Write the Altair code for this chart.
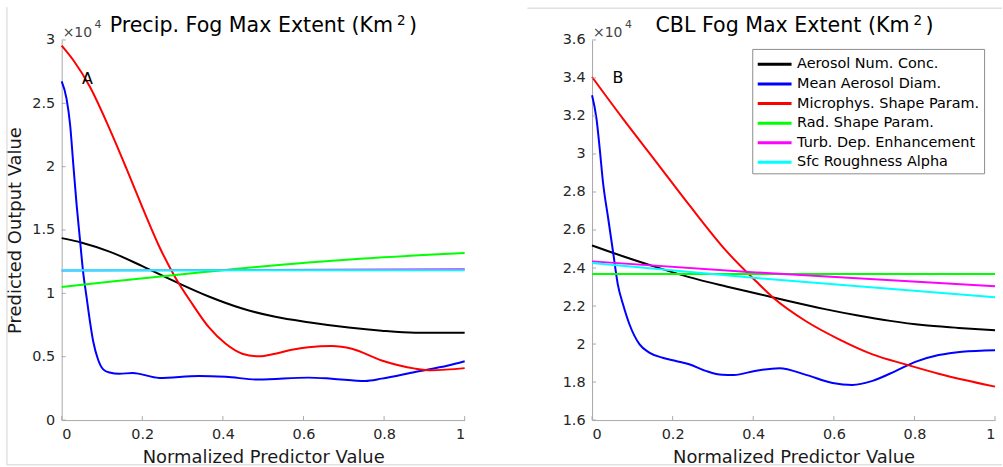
import altair as alt
import pandas as pd

# ---------------- data (values in units of 1e4 km^2) ----------------
series_names = [
    "Aerosol Num. Conc.",
    "Mean Aerosol Diam.",
    "Microphys. Shape Param.",
    "Rad. Shape Param.",
    "Turb. Dep. Enhancement",
    "Sfc Roughness Alpha",
]
series_colors = ["#000000", "#0000ff", "#ff0000", "#00ff00", "#ff00ff", "#00ffff"]

# Panel A: Precip. fog
a_black_x = [0, 0.05, 0.1185, 0.2, 0.283, 0.365, 0.448, 0.53, 0.612, 0.712, 0.794, 0.877, 1.0]
a_black_y = [1.436, 1.40, 1.33, 1.215, 1.09, 0.975, 0.88, 0.815, 0.772, 0.73, 0.705, 0.69, 0.689]

a_blue_x = [0, 0.012, 0.021, 0.029, 0.037, 0.045, 0.053, 0.062, 0.070, 0.078, 0.090, 0.103, 0.1185, 0.143,
            0.176, 0.242, 0.341, 0.407, 0.489, 0.612, 0.67, 0.753, 0.794, 0.877, 0.959, 1.0]
a_blue_y = [2.673, 2.537, 2.327, 2.01, 1.70, 1.436, 1.174, 0.964, 0.781, 0.624, 0.48, 0.40, 0.375, 0.365,
            0.372, 0.333, 0.348, 0.341, 0.320, 0.335, 0.327, 0.309, 0.327, 0.38, 0.43, 0.464]

a_red_x = [0, 0.029, 0.070, 0.1185, 0.160, 0.2, 0.242, 0.283, 0.324, 0.365, 0.407, 0.448, 0.489, 0.530,
           0.571, 0.612, 0.67, 0.72, 0.794, 0.877, 0.918, 1.0]
a_red_y = [2.956, 2.84, 2.63, 2.30, 1.99, 1.68, 1.37, 1.12, 0.917, 0.733, 0.602, 0.524, 0.503, 0.524,
           0.555, 0.575, 0.584, 0.563, 0.47, 0.406, 0.393, 0.41]

a_green_x = [0, 0.1185, 0.342, 0.612, 0.75, 1.0]
a_green_y = [1.051, 1.092, 1.165, 1.244, 1.275, 1.318]

a_magenta_x = [0, 1.0]
a_magenta_y = [1.181, 1.19]

a_cyan_x = [0, 1.0]
a_cyan_y = [1.182, 1.182]

# Panel B: CBL fog
b_black_x = [0, 0.0765, 0.159, 0.241, 0.333, 0.416, 0.49, 0.575, 0.66, 0.74, 0.82, 0.91, 1.0]
b_black_y = [2.519, 2.462, 2.405, 2.352, 2.303, 2.262, 2.225, 2.185, 2.15, 2.122, 2.10, 2.085, 2.072]

b_blue_x = [0, 0.011, 0.019, 0.027, 0.040, 0.052, 0.064, 0.077, 0.093, 0.118, 0.142, 0.175, 0.208, 0.241,
            0.282, 0.323, 0.352, 0.407, 0.465, 0.531, 0.597, 0.646, 0.696, 0.753, 0.802, 0.86, 0.918, 1.0]
b_blue_y = [3.309, 3.186, 3.029, 2.854, 2.662, 2.487, 2.313, 2.208, 2.103, 1.998, 1.955, 1.928, 1.911, 1.894,
            1.859, 1.838, 1.837, 1.86, 1.873, 1.838, 1.795, 1.785, 1.806, 1.858, 1.906, 1.942, 1.96, 1.968]

b_red_x = [0, 0.0765, 0.159, 0.241, 0.333, 0.407, 0.449, 0.531, 0.613, 0.696, 0.778, 0.86, 1.0]
b_red_y = [3.405, 3.186, 2.959, 2.732, 2.49, 2.33, 2.245, 2.12, 2.025, 1.946, 1.893, 1.844, 1.776]

b_green_x = [0, 1.0]
b_green_y = [2.369, 2.369]

b_magenta_x = [0, 0.407, 1.0]
b_magenta_y = [2.435, 2.377, 2.304]

b_cyan_x = [0, 0.407, 1.0]
b_cyan_y = [2.426, 2.347, 2.246]

x_ticks = [0, 0.2, 0.4, 0.6, 0.8, 1.0]
a_y_ticks = [0, 0.5, 1.0, 1.5, 2.0, 2.5, 3.0]
b_y_ticks = [1.6, 1.8, 2.0, 2.2, 2.4, 2.6, 2.8, 3.0, 3.2, 3.4, 3.6]

# titles: main text, superscript, closing paren
a_title = ["Precip. Fog Max Extent (Km", "2", ")"]
b_title = ["CBL Fog Max Extent (Km", "2", ")"]
a_label, a_label_x, a_label_y = "A", 0.064, 2.69
b_label, b_label_x, b_label_y = "B", 0.064, 3.40

W, H = 405, 382
FONT = "DejaVu Sans"
AXIS_GRAY = "#a8a8a8"
FRAME_GRAY = "#d2d2d2"
TEXT_GRAY = "#262626"


def make_df(groups):
    rows = []
    for name, xs, ys in groups:
        for xv, yv in zip(xs, ys):
            rows.append({"series": name, "x": xv, "y": yv})
    return pd.DataFrame(rows)


df_a = make_df([
    (series_names[0], a_black_x, a_black_y),
    (series_names[1], a_blue_x, a_blue_y),
    (series_names[2], a_red_x, a_red_y),
    (series_names[3], a_green_x, a_green_y),
    (series_names[4], a_magenta_x, a_magenta_y),
    (series_names[5], a_cyan_x, a_cyan_y),
])
df_b = make_df([
    (series_names[0], b_black_x, b_black_y),
    (series_names[1], b_blue_x, b_blue_y),
    (series_names[2], b_red_x, b_red_y),
    (series_names[3], b_green_x, b_green_y),
    (series_names[4], b_magenta_x, b_magenta_y),
    (series_names[5], b_cyan_x, b_cyan_y),
])


def txt(s, x, y, size, align="left", color="black"):
    return alt.Chart(pd.DataFrame({"s": [s]})).mark_text(
        align=align, baseline="alphabetic", fontSize=size, font=FONT, color=color
    ).encode(text="s:N", x=alt.value(x), y=alt.value(y))


def panel(df, y_ticks, title, title_end, label, lx, ly, show_ytitle, legend, frame):
    ydom = [y_ticks[0], y_ticks[-1]]
    xscale = alt.Scale(domain=[0, 1], nice=False, zero=False)
    yscale = alt.Scale(domain=ydom, nice=False, zero=False)
    xaxis = alt.Axis(values=x_ticks, format="~g", title="Normalized Predictor Value", ticks=False,
                     labelPadding=8, titlePadding=7, grid=False)
    yaxis = alt.Axis(values=y_ticks, format="~g",
                     title="Predicted Output Value" if show_ytitle else None,
                     ticks=False, labelPadding=7, titlePadding=7, grid=False)
    color = alt.Color("series:N", scale=alt.Scale(domain=series_names, range=series_colors),
                      legend=legend)
    layers = []
    for name in series_names:
        layers.append(
            alt.Chart(df).transform_filter(alt.datum.series == name)
            .mark_line(strokeWidth=2, interpolate="monotone").encode(
                x=alt.X("x:Q", scale=xscale, axis=xaxis),
                y=alt.Y("y:Q", scale=yscale, axis=yaxis),
                color=color,
                order=alt.Order("x:Q"),
            )
        )
    # inward ticks
    xt = alt.Chart(pd.DataFrame({"x": x_ticks})).mark_rule(color=AXIS_GRAY, strokeWidth=1).encode(
        x=alt.X("x:Q", scale=xscale, axis=xaxis), y=alt.value(H), y2=alt.value(H - 4))
    yt = alt.Chart(pd.DataFrame({"y": y_ticks})).mark_rule(color=AXIS_GRAY, strokeWidth=1).encode(
        y=alt.Y("y:Q", scale=yscale, axis=yaxis), x=alt.value(0), x2=alt.value(4))
    texts = [
        txt("×10", 1, -3, 14, color="#444444"),
        txt("4", 33, -12, 11, color="#444444"),
        txt(title[0], title_end, -8, 20.7, align="right"),
        txt(title[1], title_end + 4, -15.5, 13.5),
        txt(title[2], title_end + 16, -8, 20.7),
    ]
    lab = alt.Chart(pd.DataFrame({"s": [label], "x": [lx], "y": [ly]})).mark_text(
        align="center", baseline="middle", fontSize=16, font=FONT, color="black"
    ).encode(text="s:N", x=alt.X("x:Q", scale=xscale, axis=xaxis),
             y=alt.Y("y:Q", scale=yscale, axis=yaxis))
    extra = []
    if frame:
        # faint figure border of the original image (pixel offsets from this plot's origin)
        fr = alt.Chart(pd.DataFrame({"k": [0]})).mark_rule(color=FRAME_GRAY, strokeWidth=1)
        extra = [
            fr.encode(x=alt.value(-55), x2=alt.value(-55), y=alt.value(-33), y2=alt.value(427)),
            fr.encode(x=alt.value(-55), x2=alt.value(945), y=alt.value(427), y2=alt.value(427)),
            fr.encode(x=alt.value(468), x2=alt.value(945), y=alt.value(-32), y2=alt.value(-32)),
        ]
    return alt.layer(*extra, *layers, xt, yt, *texts, lab).properties(width=W, height=H)


left = panel(df_a, a_y_ticks, a_title, 333, a_label, a_label_x, a_label_y, True, None, True)
right = panel(df_b, b_y_ticks, b_title, 319, b_label, b_label_x, b_label_y, False,
              alt.Legend(orient="none", legendX=161, legendY=9, title=None,
                         symbolType="M-1,0H2.4", symbolSize=400, symbolStrokeWidth=3,
                         labelFontSize=14.5, labelFont=FONT, labelColor="black",
                         labelOffset=18, labelLimit=400, rowPadding=1.7,
                         fillColor="white", strokeColor="#8c8c8c", padding=4), False)

chart = alt.hconcat(left, right, spacing=128, bounds="flush").resolve_scale(color="independent").resolve_legend(
    color="independent"
).properties(
    padding={"left": 6, "top": 5, "right": 0, "bottom": 0},
    background="white",
).configure_view(stroke=None).configure_axis(
    domainColor=AXIS_GRAY, domainWidth=1, labelFont=FONT, labelFontSize=14.5, labelColor=TEXT_GRAY,
    titleFont=FONT, titleFontSize=18, titleFontWeight="normal", titleColor="#1a1a1a",
)

chart.save("out.html", embed_options={"renderer": "svg", "actions": False})
